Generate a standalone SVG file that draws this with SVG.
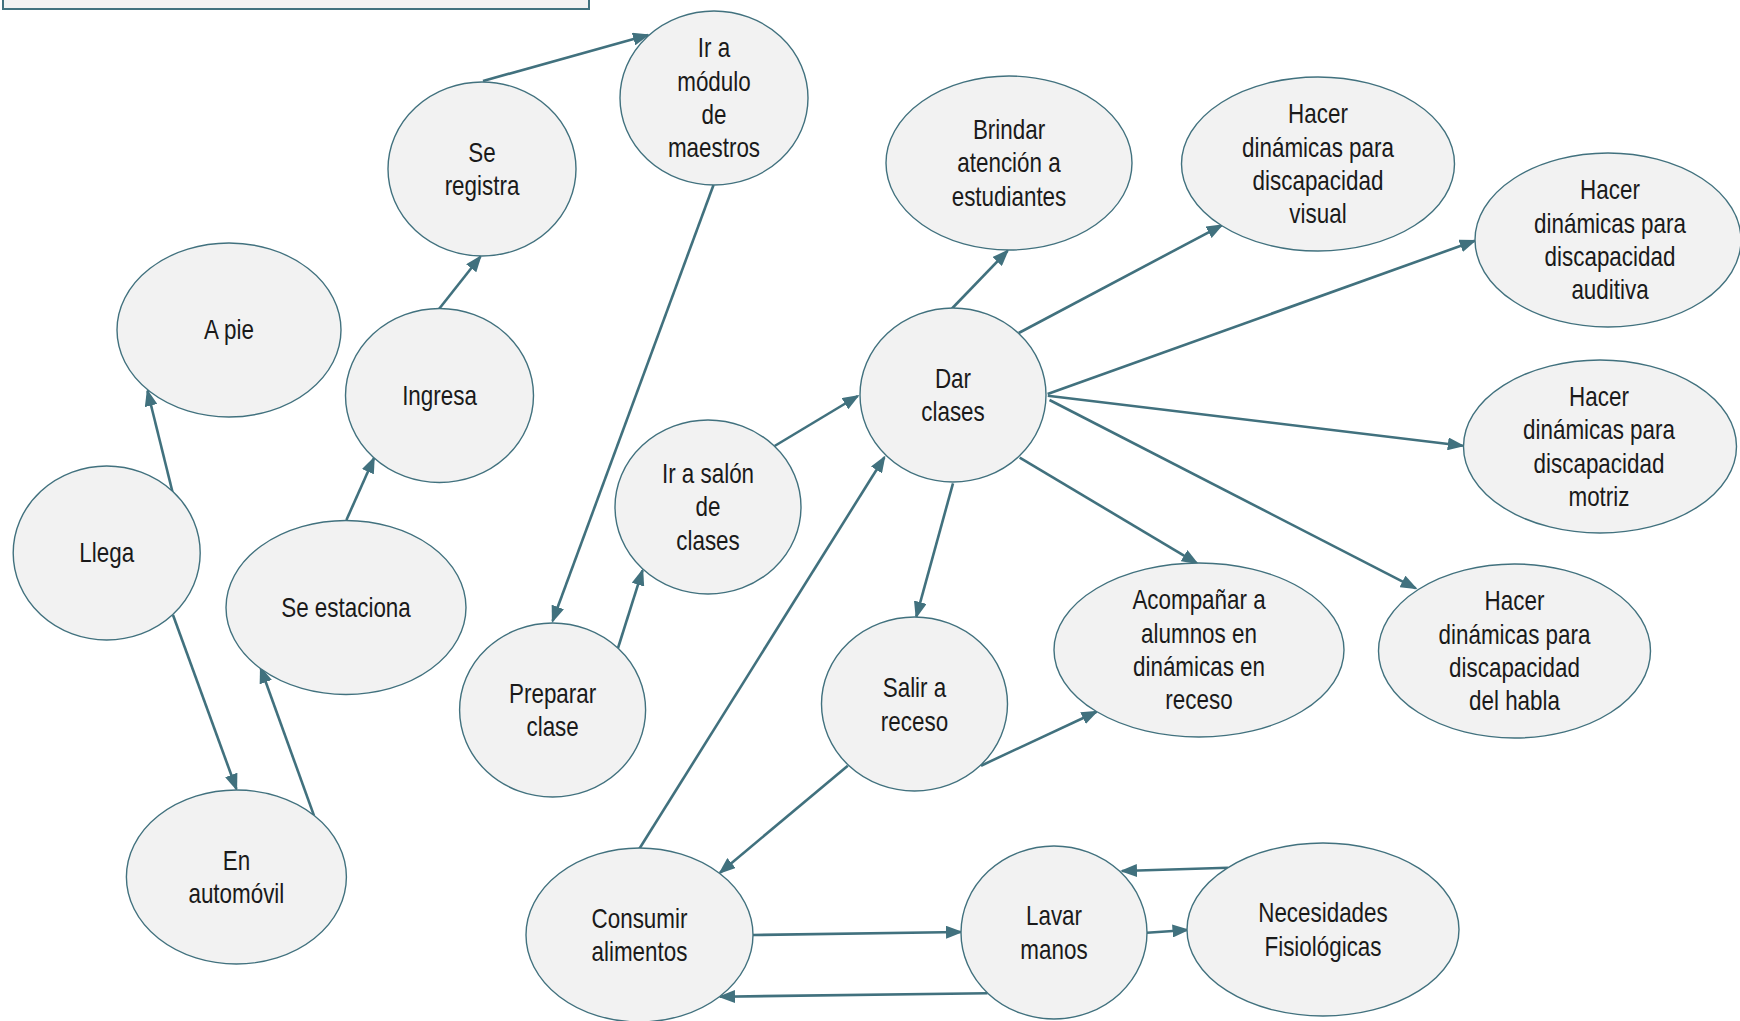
<svg xmlns="http://www.w3.org/2000/svg" width="1740" height="1021" viewBox="0 0 1740 1021">
<style>
.n ellipse{fill:#f2f2f2;stroke:#41717e;stroke-width:1.4}
.n text{font-family:"Liberation Sans Narrow","Arial Narrow","Liberation Sans",sans-serif;font-size:27px;fill:#1a1a1a;text-anchor:middle}
#edges line{stroke:#41717e;stroke-width:2.6;marker-end:url(#ah)}
</style>
<defs>
<marker id="ah" markerUnits="userSpaceOnUse" markerWidth="17" markerHeight="13" refX="15" refY="6.5" orient="auto">
<path d="M0,0 L17,6.5 L0,13 z" fill="#41717e"/>
</marker>
</defs>
<rect width="1740" height="1021" fill="#ffffff"/>
<rect x="3" y="-10" width="586" height="19" fill="#f2f2f2" stroke="#41717e" stroke-width="2"/>
<g id="edges">
<line x1="483" y1="81" x2="648" y2="35"/>
<line x1="713.5" y1="185" x2="552.6" y2="621"/>
<line x1="439" y1="309" x2="480.5" y2="256.5"/>
<line x1="346.4" y1="520" x2="374" y2="458"/>
<line x1="172.5" y1="492" x2="147.5" y2="391"/>
<line x1="173" y1="615" x2="236.4" y2="789"/>
<line x1="314" y1="815.6" x2="260.7" y2="668"/>
<line x1="618" y1="648" x2="642.5" y2="570.4"/>
<line x1="774.6" y1="446" x2="857.8" y2="396"/>
<line x1="639.2" y1="849" x2="884.4" y2="457.2"/>
<line x1="952" y1="308.5" x2="1007.6" y2="250.8"/>
<line x1="1018.7" y1="333" x2="1221.8" y2="225.3"/>
<line x1="1047.6" y1="394" x2="1474.8" y2="240.8"/>
<line x1="1047.8" y1="395.7" x2="1462.8" y2="445.7"/>
<line x1="1049.5" y1="400" x2="1415.8" y2="588.3"/>
<line x1="1019.7" y1="457.7" x2="1197" y2="563.3"/>
<line x1="953" y1="483.3" x2="916.3" y2="616.7"/>
<line x1="981" y1="765.7" x2="1096.6" y2="711.7"/>
<line x1="847.8" y1="765.7" x2="720" y2="872.7"/>
<line x1="753" y1="935" x2="961" y2="932"/>
<line x1="987.5" y1="993.3" x2="720" y2="996.7"/>
<line x1="1147" y1="932.7" x2="1187.5" y2="930"/>
<line x1="1228" y1="867.7" x2="1122" y2="871"/>
</g>
<g id="n-registra" class="n"><ellipse cx="482" cy="169" rx="94" ry="87"/><text transform="matrix(0.83 0 0 1 81.94 0)"><tspan x="482" y="162">Se</tspan><tspan x="482" y="195.3">registra</tspan></text></g>
<g id="n-modulo" class="n"><ellipse cx="714" cy="98" rx="94" ry="87"/><text transform="matrix(0.83 0 0 1 121.38 0)"><tspan x="714" y="57.5">Ir a</tspan><tspan x="714" y="90.8">módulo</tspan><tspan x="714" y="124.1">de</tspan><tspan x="714" y="157.5">maestros</tspan></text></g>
<g id="n-apie" class="n"><ellipse cx="229" cy="330" rx="112" ry="87"/><text transform="matrix(0.83 0 0 1 38.93 0)" x="229" y="339.5">A pie</text></g>
<g id="n-ingresa" class="n"><ellipse cx="439.5" cy="395.5" rx="94" ry="87"/><text transform="matrix(0.83 0 0 1 74.715 0)" x="439.5" y="405">Ingresa</text></g>
<g id="n-llega" class="n"><ellipse cx="106.7" cy="553" rx="93.5" ry="87"/><text transform="matrix(0.83 0 0 1 18.139 0)" x="106.7" y="562.5">Llega</text></g>
<g id="n-estaciona" class="n"><ellipse cx="346" cy="607.5" rx="120" ry="87"/><text transform="matrix(0.83 0 0 1 58.82 0)" x="346" y="617">Se estaciona</text></g>
<g id="n-automovil" class="n"><ellipse cx="236.4" cy="877" rx="110" ry="87"/><text transform="matrix(0.83 0 0 1 40.188 0)"><tspan x="236.4" y="870">En</tspan><tspan x="236.4" y="903.3">automóvil</tspan></text></g>
<g id="n-preparar" class="n"><ellipse cx="552.6" cy="710" rx="93" ry="87"/><text transform="matrix(0.83 0 0 1 93.942 0)"><tspan x="552.6" y="703">Preparar</tspan><tspan x="552.6" y="736.3">clase</tspan></text></g>
<g id="n-salon" class="n"><ellipse cx="708" cy="507" rx="93" ry="87"/><text transform="matrix(0.83 0 0 1 120.36 0)"><tspan x="708" y="483.2">Ir a salón</tspan><tspan x="708" y="516.5">de</tspan><tspan x="708" y="549.8">clases</tspan></text></g>
<g id="n-dar" class="n"><ellipse cx="953" cy="395" rx="93" ry="87"/><text transform="matrix(0.83 0 0 1 162.01 0)"><tspan x="953" y="388">Dar</tspan><tspan x="953" y="421.3">clases</tspan></text></g>
<g id="n-brindar" class="n"><ellipse cx="1009" cy="163" rx="123" ry="87"/><text transform="matrix(0.83 0 0 1 171.53 0)"><tspan x="1009" y="139.2">Brindar</tspan><tspan x="1009" y="172.5">atención a</tspan><tspan x="1009" y="205.8">estudiantes</tspan></text></g>
<g id="n-visual" class="n"><ellipse cx="1318" cy="164" rx="136.5" ry="87"/><text transform="matrix(0.83 0 0 1 224.06 0)"><tspan x="1318" y="123.5">Hacer</tspan><tspan x="1318" y="156.8">dinámicas para</tspan><tspan x="1318" y="190.1">discapacidad</tspan><tspan x="1318" y="223.5">visual</tspan></text></g>
<g id="n-auditiva" class="n"><ellipse cx="1608" cy="240" rx="133" ry="87"/><text transform="matrix(0.83 0 0 1 273.7 0)"><tspan x="1610" y="199.5">Hacer</tspan><tspan x="1610" y="232.8">dinámicas para</tspan><tspan x="1610" y="266.1">discapacidad</tspan><tspan x="1610" y="299.5">auditiva</tspan></text></g>
<g id="n-motriz" class="n"><ellipse cx="1600" cy="446.5" rx="136.5" ry="86.5"/><text transform="matrix(0.83 0 0 1 271.83 0)"><tspan x="1599" y="406">Hacer</tspan><tspan x="1599" y="439.3">dinámicas para</tspan><tspan x="1599" y="472.6">discapacidad</tspan><tspan x="1599" y="506">motriz</tspan></text></g>
<g id="n-acompanar" class="n"><ellipse cx="1199" cy="650" rx="145" ry="87"/><text transform="matrix(0.83 0 0 1 203.83 0)"><tspan x="1199" y="609.5">Acompañar a</tspan><tspan x="1199" y="642.8">alumnos en</tspan><tspan x="1199" y="676.1">dinámicas en</tspan><tspan x="1199" y="709.5">receso</tspan></text></g>
<g id="n-habla" class="n"><ellipse cx="1514.5" cy="651" rx="136" ry="87"/><text transform="matrix(0.83 0 0 1 257.465 0)"><tspan x="1514.5" y="610.5">Hacer</tspan><tspan x="1514.5" y="643.8">dinámicas para</tspan><tspan x="1514.5" y="677.1">discapacidad</tspan><tspan x="1514.5" y="710.5">del habla</tspan></text></g>
<g id="n-receso" class="n"><ellipse cx="914.5" cy="704" rx="93" ry="87"/><text transform="matrix(0.83 0 0 1 155.465 0)"><tspan x="914.5" y="697.5">Salir a</tspan><tspan x="914.5" y="730.8">receso</tspan></text></g>
<g id="n-consumir" class="n"><ellipse cx="639.5" cy="935" rx="113.5" ry="87"/><text transform="matrix(0.83 0 0 1 108.715 0)"><tspan x="639.5" y="928">Consumir</tspan><tspan x="639.5" y="961.3">alimentos</tspan></text></g>
<g id="n-lavar" class="n"><ellipse cx="1054" cy="932.5" rx="93" ry="86.5"/><text transform="matrix(0.83 0 0 1 179.18 0)"><tspan x="1054" y="925.5">Lavar</tspan><tspan x="1054" y="958.8">manos</tspan></text></g>
<g id="n-necesidades" class="n"><ellipse cx="1323" cy="929.5" rx="136" ry="86.5"/><text transform="matrix(0.83 0 0 1 224.91 0)"><tspan x="1323" y="922.5">Necesidades</tspan><tspan x="1323" y="955.8">Fisiológicas</tspan></text></g>
</svg>
